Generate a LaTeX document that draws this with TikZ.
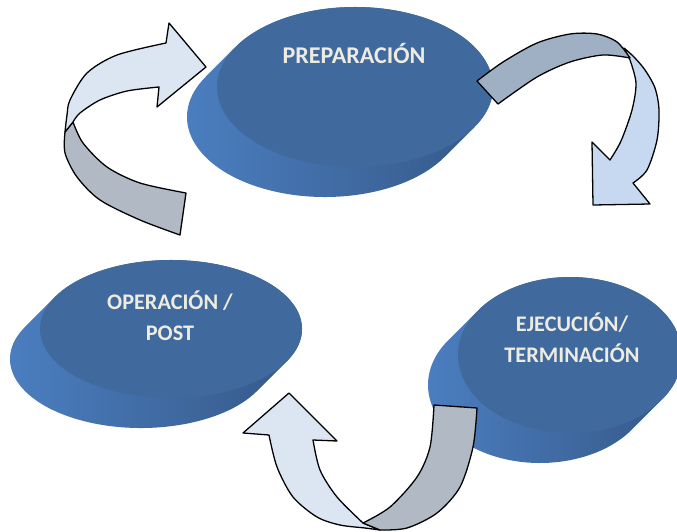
\documentclass[tikz,border=0pt]{standalone}
\usepackage{fontspec}
\setmainfont{Carlito}
\definecolor{facecol}{RGB}{64,105,158}
\definecolor{sidelight}{RGB}{76,128,195}
\definecolor{sidedark}{RGB}{52,86,132}
\definecolor{labelcol}{RGB}{238,236,225}
\definecolor{ribbonlight}{RGB}{220,230,242}
\definecolor{ribbongrey}{RGB}{177,185,196}
\definecolor{ribbonblue}{RGB}{198,217,241}
\definecolor{ribbonslate}{RGB}{160,176,196}
\begin{document}
\begin{tikzpicture}[x=0.03cm,y=-0.03cm,
    diskside/.style={left color=sidelight,right color=sidedark},
    disktop/.style={fill=facecol},
    disklabel/.style={text=labelcol,font=\bfseries\fontsize{19}{26.5}\selectfont,align=center},
    ribbon/.style={draw=black,line width=1.1pt,line join=round,fill=#1}]
        \useasboundingbox (0,0) rectangle (677,531);
        \clip (0,0) rectangle (677,531);
        %% Disks
        \foreach \cx/\cy/\rx/\ry in {355/87/138/80, 171/329/131/69, 570/355/112/78}{
            \pgfmathsetmacro\ta{atan(\ry/\rx)}
            \pgfmathsetmacro\tb{\ta+180}
            \shade[diskside] ({\cx+\rx*cos(\ta)},{\cy+\ry*sin(\ta)})
                -- ({\cx-30+\rx*cos(\ta)},{\cy+30+\ry*sin(\ta)})
                arc[start angle=\ta,end angle=\tb,x radius=\rx,y radius=\ry]
                -- ({\cx+\rx*cos(\tb)},{\cy+\ry*sin(\tb)})
                arc[start angle=\tb,end angle=\ta+360,x radius=\rx,y radius=\ry] -- cycle;
            \fill[disktop] (\cx,\cy) ellipse[x radius=\rx,y radius=\ry];
        }
        %% Labels
        \node[disklabel,font=\bfseries\fontsize{20.5}{26.5}\selectfont] (prep) at (354,53) {PREPARACIÓN};
        \node[disklabel] (oper) at (170,316) {OPERACIÓN /\\POST};
        \node[disklabel] (ejec) at (572,338) {EJECUCIÓN/\\TERMINACIÓN};
        %% Arrow: operacion -> preparacion
        \draw[ribbon=ribbongrey] plot[smooth] coordinates {(73,122) (83,143) (107,167) (140,183) (186,193)}
            -- plot[smooth] coordinates {(180,235) (140,220) (100,200) (77,177) (65,153) (65,132)} -- cycle;
        \draw[ribbon=ribbonlight] plot[smooth] coordinates {(65,132) (67,115) (70,100) (87,73) (117,55) (166,43)}
            -- (169,23) -- (206,67) -- (157,107)
            -- plot[smooth] coordinates {(159,87) (127,91) (100,100) (80,113) (73,122)} -- cycle;
        %% Arrow: preparacion -> ejecucion
        \draw[ribbon=ribbonblue] plot[smooth] coordinates {(624,48) (634,57) (645,70) (655,88) (659,110) (657,140) (647,170) (633,183)}
            -- (650,204) -- (593,205) -- (592,142)
            -- plot[smooth] coordinates {(610,160) (621,141) (632,110) (636,83) (630,60)} -- cycle;
        \draw[ribbon=ribbonslate] plot[smooth] coordinates {(477,81) (503,62) (537,43) (570,34) (597,34) (617,42) (630,58)}
            -- plot[smooth] coordinates {(630,58) (603,55) (570,62) (537,77) (498,104)} -- cycle;
        %% Arrow: ejecucion -> operacion
        \draw[ribbon=ribbonlight] (289,393) -- (337,441)
            -- plot[smooth] coordinates {(313,440) (320,470) (337,497) (363,523)}
            -- plot[smooth] coordinates {(380,530) (365,528) (340,525) (317,517) (293,497) (277,467) (269,435)}
            -- (243,433) -- cycle;
        \draw[ribbon=ribbongrey] plot[smooth] coordinates {(363,523) (390,507) (417,477) (430,447) (434,405)}
            -- plot[smooth] coordinates {(477,408) (473,447) (460,487) (437,513) (407,528) (380,530)} -- cycle;
    \end{tikzpicture}
\end{document}
